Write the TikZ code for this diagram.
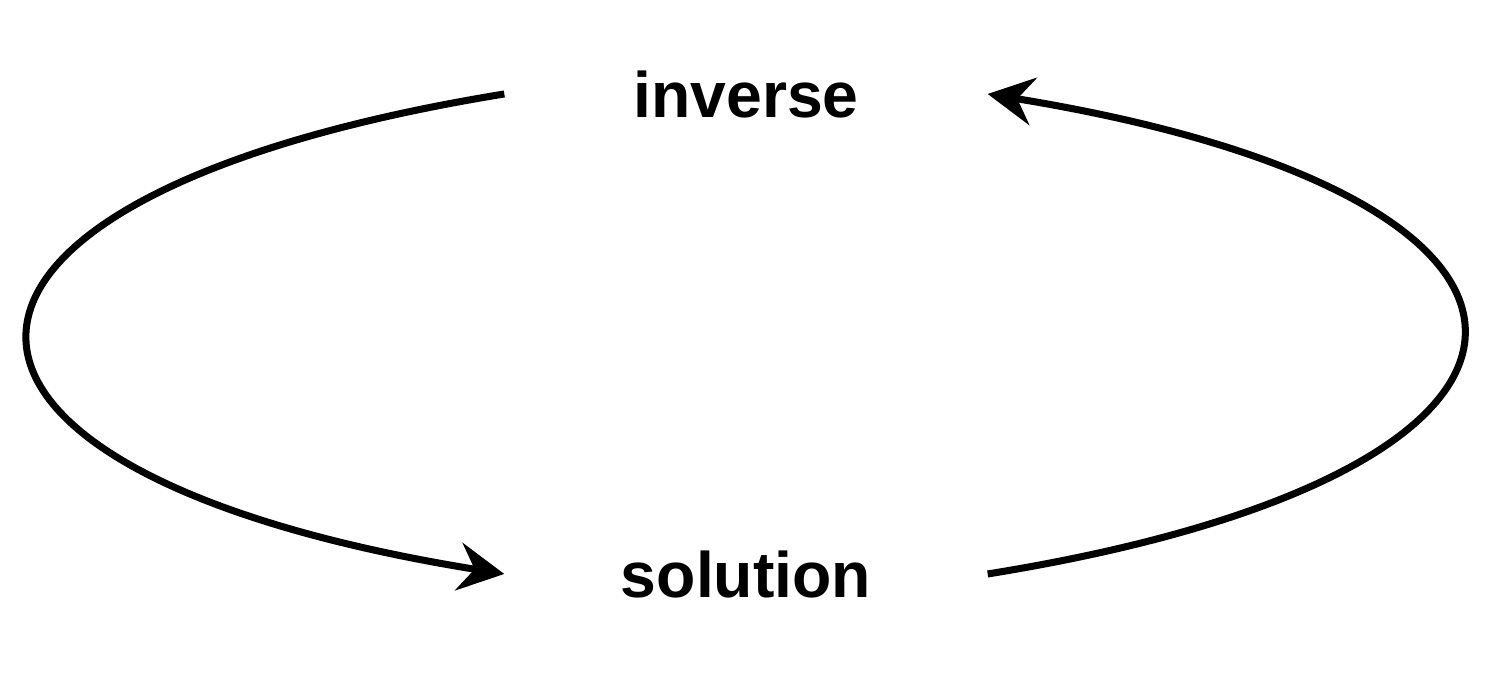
\documentclass[tikz,border=0pt]{standalone}
\usepackage{fontspec}
\setmainfont{Liberation Sans}
\usepackage{tikz}
\usetikzlibrary{arrows.meta}

\begin{document}
\begin{tikzpicture}[
	word/.style = { font = \fontsize{18.3}{22}\selectfont\bfseries ,
		anchor = base , inner sep = 0pt , minimum width = 4.82cm ,
		text height = 0.48cm , text depth = 0cm } ,
	cycle/.style = { line width = 2pt ,
		-{Stealth[length = 4.6mm , width = 4.8mm , inset = 1.6mm]} } ]
	\useasboundingbox (0,0) rectangle (14.88,6.82);
	\node [ word ] (1) at (7.46,5.64) 
		{ inverse };
	\node [ word ] (2) at (7.46,0.84) 
		{ solution };
	\draw [ cycle ] (1.west) 
		.. controls (-1.29,4.85) and (-1.29,2.1) .. 
		(2.west);
	\draw [ cycle ] (2.east) 
		.. controls (16.2,2.1) and (16.2,4.85) .. 
		(1.east);
\end{tikzpicture}
\end{document}
